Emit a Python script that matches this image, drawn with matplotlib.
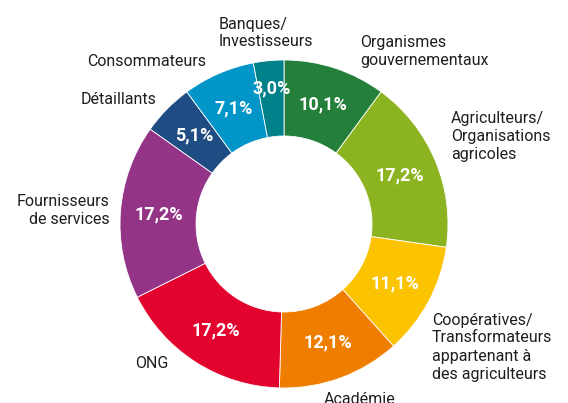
import numpy as np
import matplotlib
matplotlib.use("Agg")
import matplotlib.pyplot as plt

# Shares of stakeholder groups, clockwise from the top
groups = [
    "Organismes\ngouvernementaux",
    "Agriculteurs/\nOrganisations\nagricoles",
    "Coopératives/\nTransformateurs\nappartenant à\ndes agriculteurs",
    "Académie",
    "ONG",
    "Fournisseurs\nde services",
    "Détaillants",
    "Consommateurs",
    "Banques/\nInvestisseurs",
]
shares = [10.1, 17.2, 11.1, 12.1, 17.2, 17.2, 5.1, 7.1, 3.0]
colors = [
    "#247f3a", "#8cb421", "#fcc300", "#ef7d00", "#e3032f",
    "#943487", "#1f4c83", "#0195c8", "#00818a",
]

W, H = 568, 403


def px(x, y):
    # pixel coordinates (origin top-left) -> data coordinates
    return x, H - y


plt.rcParams["font.family"] = ["Roboto", "DejaVu Sans"]

fig = plt.figure(figsize=(W / 100, H / 100), dpi=100)
ax = fig.add_axes([0, 0, 1, 1])
ax.set_xlim(0, W)
ax.set_ylim(0, H)
ax.set_aspect("equal")
ax.axis("off")

cx, cy = px(284, 224)
R, r = 164, 88

wedges, _ = ax.pie(
    shares,
    colors=colors,
    startangle=90,
    counterclock=False,
    center=(cx, cy),
    radius=R,
    wedgeprops=dict(width=R - r, edgecolor="white", linewidth=0.6),
    frame=True,
)
ax.set_xlim(0, W)
ax.set_ylim(0, H)
ax.axis("off")

# percentage labels in the ring
for i, (w, v) in enumerate(zip(wedges, shares)):
    ang = np.deg2rad((w.theta1 + w.theta2) / 2)
    dist = (R + r) / 2
    if v < 4:
        dist += 10
    tx = cx + dist * np.cos(ang)
    ty = cy + dist * np.sin(ang)
    ax.text(tx, ty, f"{v:.1f}%".replace(".", ","), color="white",
            fontsize=13, fontweight="bold", ha="center", va="center")

# outer labels: (x, y, ha) in pixels, y = centre of text block
label_pos = [
    (360, 51, "left"),
    (451, 136, "left"),
    (432, 347, "left"),
    (360, 400, "center"),
    (168, 364, "right"),
    (110, 210, "right"),
    (157, 99, "right"),
    (206, 62, "right"),
    (219, 33, "left"),
]
for name, (x, y, ha) in zip(groups, label_pos):
    ax.text(*px(x, y), name, fontsize=11.5, color="#1e1e1e",
            ha=ha, va="center", linespacing=1.25, multialignment=ha)

fig.savefig("out.png", dpi=100)
